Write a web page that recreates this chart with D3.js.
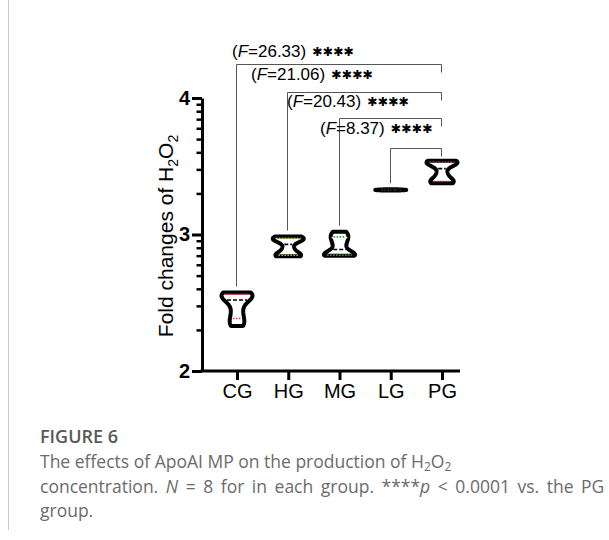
<!DOCTYPE html>
<html>
<head>
<meta charset="utf-8">
<script src="https://cdn.jsdelivr.net/npm/d3@7"></script>
<style>
  body { margin: 0; background: #fff; }
  svg { display: block; }
</style>
</head>
<body>
<div id="chart"><svg></svg></div>
<script>
// groups and raw values (8 per group)
const groups = ['CG', 'HG', 'MG', 'LG', 'PG']
const valuesCG = [2.33, 2.37, 2.43, 2.50, 2.54, 2.555, 2.565, 2.575]
const valuesHG = [2.84, 2.845, 2.855, 2.90, 2.955, 2.965, 2.975, 2.985]
const valuesMG = [2.845, 2.848, 2.852, 2.86, 2.92, 2.96, 2.99, 3.02]
const valuesLG = [3.322, 3.324, 3.325, 3.326, 3.327, 3.328, 3.329, 3.331]
const valuesPG = [3.375, 3.385, 3.40, 3.45, 3.515, 3.525, 3.533, 3.54]
const quartileColors = ['#e8322b', '#b8b43c', '#2f9a40', '#555555', '#a33060']

// comparisons vs PG
const compareFrom = ['CG', 'HG', 'MG', 'LG']
const fValues = ['26.33', '21.06', '20.43', '8.37']
const bracketLevels = [4.25, 4.045, 3.85, 3.635]
const labelX = [232, 251, 287, 320]
const labelY = [57, 80, 107, 134]

const yTicks = [2, 3, 4]

const svg = d3.select('#chart svg').attr('width', 609).attr('height', 540)

const x = d3.scalePoint().domain(groups).range([237, 442])
const y = d3.scaleLinear().domain([2, 4]).range([371, 98])

const allValues = [valuesCG, valuesHG, valuesMG, valuesLG, valuesPG]

// left border line of the figure box
svg.append('line')
  .attr('x1', 8.5).attr('x2', 8.5).attr('y1', 0).attr('y2', 530)
  .attr('stroke', '#c8c8c8').attr('stroke-width', 1)

/**
 * Prism-like quartiles (n+1 method)
 */
function quantile (sorted, p) {
  const pos = p * (sorted.length + 1) - 1
  const lo = Math.max(0, Math.min(sorted.length - 1, Math.floor(pos)))
  const hi = Math.min(sorted.length - 1, lo + 1)
  return sorted[lo] + (pos - lo) * (sorted[hi] - sorted[lo])
}

/**
 * Gaussian kernel density, evaluated on the data range
 */
function kde (vals, h) {
  return v => d3.sum(vals, d => Math.exp(-0.5 * ((v - d) / h) ** 2))
}

const halfW = 15.5
const violins = svg.append('g').attr('id', 'violins')

allValues.forEach((vals, i) => {
  const sorted = vals.slice().sort(d3.ascending)
  const lo = sorted[0]
  const hi = sorted[sorted.length - 1]
  const h = (hi - lo) * 0.17 || 0.01
  const dens = kde(sorted, h)
  const grid = d3.range(0, 81).map(k => lo + (hi - lo) * k / 80)
  const dmax = d3.max(grid, dens)
  const wAt = v => dens(v) / dmax * halfW
  const cx = x(groups[i])

  const area = d3.area()
    .y(d => y(d))
    .x0(d => cx - wAt(d))
    .x1(d => cx + wAt(d))

  violins.append('path')
    .datum(grid)
    .attr('d', area)
    .attr('fill', '#fff')
    .attr('stroke', '#000')
    .attr('stroke-width', 4)
    .attr('stroke-linejoin', 'round')

  const q1 = quantile(sorted, 0.25)
  const q2 = quantile(sorted, 0.5)
  const q3 = quantile(sorted, 0.75)
  ;[[q1, quartileColors[i], '1.5,1.5'], [q3, quartileColors[i], '1.5,1.5'], [q2, '#000', '4,2']]
    .forEach(([q, c, dash]) => {
      const w = Math.max(0, wAt(q) - 3)
      violins.append('line')
        .attr('x1', cx - w).attr('x2', cx + w)
        .attr('y1', y(q)).attr('y2', y(q))
        .attr('stroke', c)
        .attr('stroke-width', 1.6)
        .attr('stroke-dasharray', dash)
    })
})

// significance brackets
const brackets = svg.append('g').attr('id', 'brackets')
compareFrom.forEach((g, i) => {
  const yb = Math.round(y(bracketLevels[i])) + 0.5
  const x1 = Math.round(x(g) - 1) + 0.5
  const x2 = Math.round(x('PG') - 1) + 0.5
  const leftEnd = y(d3.max(allValues[groups.indexOf(g)])) - 6
  brackets.append('path')
    .attr('d', `M${x1},${leftEnd}V${yb}H${x2}V${yb + 8}`)
    .attr('fill', 'none')
    .attr('stroke', '#555')
    .attr('stroke-width', 1)

  const t = brackets.append('text')
    .attr('x', labelX[i])
    .attr('y', labelY[i])
    .attr('font-family', 'Liberation Sans, Arial, sans-serif')
    .attr('font-size', 17)
    .attr('fill', '#000')
  t.append('tspan').text('(')
  t.append('tspan').attr('font-style', 'italic').text('F')
  t.append('tspan').text('=' + fValues[i] + ')')
  t.append('tspan').attr('dx', 6)
    .attr('font-family', 'DejaVu Sans, sans-serif')
    .attr('font-size', 12.5)
    .attr('dy', -1)
    .text('✱✱✱✱')
})

// axes
const axisG = svg.append('g').attr('id', 'axes')

const minorTicks = []
yTicks.slice(0, -1).forEach(t => {
  d3.range(2, 10).forEach(m => minorTicks.push(t + Math.log10(m)))
})

axisG.append('g')
  .attr('transform', 'translate(202,0)')
  .call(d3.axisLeft(y).tickValues(minorTicks).tickSize(5.5).tickFormat(''))
  .call(g => g.select('.domain').remove())
  .call(g => g.selectAll('line').attr('stroke-width', 2.5))

axisG.append('g')
  .attr('transform', 'translate(202,0)')
  .call(d3.axisLeft(y).tickValues(yTicks).tickSize(10).tickPadding(2)
    .tickSizeOuter(0).tickFormat(d3.format('d')))
  .call(g => g.select('.domain').attr('stroke-width', 3))
  .call(g => g.selectAll('line').attr('stroke-width', 3))
  .call(g => g.selectAll('text')
    .attr('font-family', 'Liberation Sans, Arial, sans-serif')
    .attr('font-size', 20)
    .attr('font-weight', 'bold')
    .attr('fill', '#000'))

axisG.append('g')
  .attr('transform', 'translate(0,371)')
  .call(d3.axisBottom(x).tickSize(9).tickPadding(4).tickSizeOuter(0))
  .call(g => g.select('.domain').attr('d', 'M200.5,0H460').attr('stroke-width', 3))
  .call(g => g.selectAll('line').attr('stroke-width', 3))
  .call(g => g.selectAll('text')
    .attr('font-family', 'Liberation Sans, Arial, sans-serif')
    .attr('font-size', 20)
    .attr('fill', '#000'))

// y axis title
const yTitle = axisG.append('text')
  .attr('transform', 'translate(173,236) rotate(-90)')
  .attr('text-anchor', 'middle')
  .attr('font-family', 'Liberation Sans, Arial, sans-serif')
  .attr('font-size', 21)
  .attr('fill', '#000')
yTitle.append('tspan').text('Fold changes of H')
yTitle.append('tspan').attr('font-size', 14).attr('dy', 5).text('2')
yTitle.append('tspan').attr('dy', -5).text('O')
yTitle.append('tspan').attr('font-size', 14).attr('dy', 5).text('2')

// caption
const cap = svg.append('g').attr('id', 'caption')
  .attr('font-family', 'Open Sans, sans-serif')
  .attr('fill', '#6b6b6b')

cap.append('text')
  .attr('x', 40).attr('y', 443)
  .attr('font-size', 18).attr('font-weight', 600).attr('fill', '#595959')
  .text('FIGURE 6')

const l1 = cap.append('text').attr('x', 40).attr('y', 468).attr('font-size', 17.5)
l1.append('tspan').text('The effects of ApoAI MP on the production of H')
l1.append('tspan').attr('font-size', 12).attr('dy', 3).text('2')
l1.append('tspan').attr('dy', -3).text('O')
l1.append('tspan').attr('font-size', 12).attr('dy', 3).text('2')

const l2 = cap.append('text').attr('x', 40).attr('y', 493).attr('font-size', 17.5)
  .attr('word-spacing', 3)
l2.append('tspan').text('concentration. ')
l2.append('tspan').attr('font-style', 'italic').text('N')
l2.append('tspan').text(' = 8 for in each group. ****')
l2.append('tspan').attr('font-style', 'italic').text('p')
l2.append('tspan').text(' < 0.0001 vs. the PG')

cap.append('text').attr('x', 40).attr('y', 517).attr('font-size', 17.5).text('group.')
</script>
</body>
</html>
